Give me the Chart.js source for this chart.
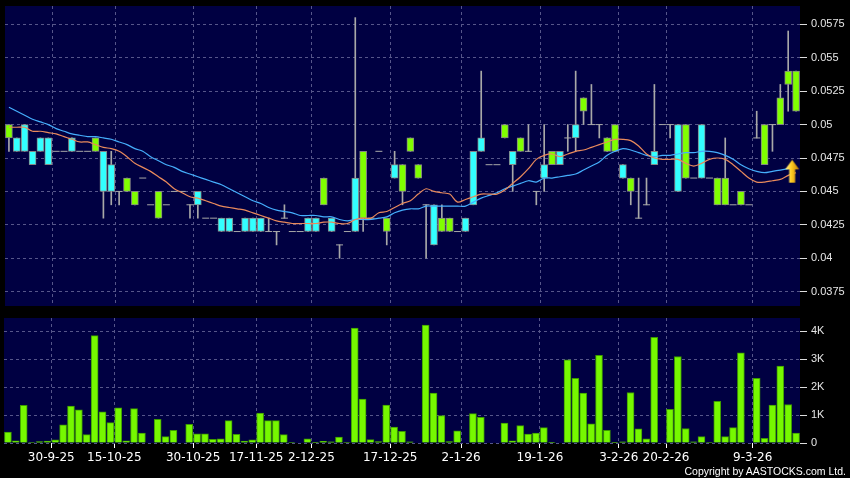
<!DOCTYPE html>
<html>
<head>
<meta charset="utf-8">
<script src="https://cdn.jsdelivr.net/npm/chart.js@4.4.0/dist/chart.umd.min.js"></script>
<style>
  html, body { margin: 0; padding: 0; background: #000; }
  #wrap { position: relative; width: 850px; height: 478px; overflow: hidden; background: #000; }
  #priceChart { position: absolute; left: 0; top: 0; }
  #volumeChart { position: absolute; left: 0; top: 312px; }
  #copy { position: absolute; right: 4px; top: 465px; color: #fff; font: 10.5px "Liberation Sans", Arial, sans-serif; line-height: 12px; }
</style>
</head>
<body>
<div id="wrap">
  <canvas id="priceChart" width="850" height="312"></canvas>
  <canvas id="volumeChart" width="850" height="166"></canvas>
  <div id="copy">Copyright by AASTOCKS.com Ltd.</div>
</div>
<script>
// ---- data (one entry per trading day) ----
const dateLabels = ['30-9-25', '15-10-25', '30-10-25', '17-11-25', '2-12-25', '17-12-25', '2-1-26', '19-1-26', '3-2-26', '20-2-26', '9-3-26'];
const dateLabelBars = [6, 14, 24, 32, 39, 49, 58, 68, 78, 84, 95];

const openPrices = [
  0.049, 0.049, 0.050, 0.048, 0.049, 0.049, 0.048, 0.048, 0.049, 0.048,
  0.048, 0.048, 0.048, 0.047, 0.045, 0.045, 0.044, 0.046, 0.044, 0.043,
  0.044, 0.045, 0.045, 0.044, 0.045, 0.043, 0.043, 0.043, 0.043, 0.042,
  0.043, 0.043, 0.043, 0.042, 0.042, 0.043, 0.042, 0.042, 0.043, 0.043,
  0.044, 0.043, 0.041, 0.042, 0.046, 0.043, 0.043, 0.048, 0.042, 0.047,
  0.045, 0.048, 0.046, 0.044, 0.044, 0.042, 0.042, 0.042, 0.043, 0.048,
  0.049, 0.047, 0.047, 0.049, 0.048, 0.048, 0.048, 0.045, 0.047, 0.047,
  0.048, 0.049, 0.050, 0.051, 0.050, 0.050, 0.048, 0.048, 0.047, 0.045,
  0.043, 0.044, 0.048, 0.050, 0.050, 0.050, 0.046, 0.046, 0.050, 0.046,
  0.044, 0.044, 0.044, 0.044, 0.044, 0.049, 0.047, 0.050, 0.050, 0.053,
  0.051
];
const highPrices = [
  0.050, 0.049, 0.050, 0.048, 0.049, 0.049, 0.048, 0.048, 0.049, 0.048,
  0.048, 0.049, 0.048, 0.048, 0.045, 0.046, 0.045, 0.046, 0.044, 0.045,
  0.044, 0.045, 0.045, 0.044, 0.045, 0.043, 0.043, 0.043, 0.043, 0.042,
  0.043, 0.043, 0.043, 0.043, 0.042, 0.044, 0.042, 0.042, 0.043, 0.043,
  0.046, 0.043, 0.041, 0.042, 0.058, 0.048, 0.043, 0.048, 0.043, 0.048,
  0.047, 0.049, 0.047, 0.044, 0.044, 0.044, 0.043, 0.042, 0.043, 0.048,
  0.054, 0.047, 0.047, 0.050, 0.048, 0.049, 0.050, 0.045, 0.050, 0.048,
  0.048, 0.050, 0.054, 0.052, 0.053, 0.050, 0.049, 0.050, 0.047, 0.046,
  0.046, 0.046, 0.053, 0.050, 0.050, 0.050, 0.050, 0.046, 0.050, 0.046,
  0.046, 0.049, 0.044, 0.045, 0.044, 0.051, 0.050, 0.050, 0.053, 0.057,
  0.054
];
const lowPrices = [
  0.048, 0.048, 0.048, 0.047, 0.048, 0.047, 0.048, 0.048, 0.048, 0.048,
  0.048, 0.048, 0.043, 0.044, 0.044, 0.045, 0.044, 0.046, 0.044, 0.043,
  0.044, 0.045, 0.045, 0.043, 0.043, 0.043, 0.043, 0.042, 0.042, 0.042,
  0.042, 0.042, 0.042, 0.042, 0.041, 0.043, 0.042, 0.042, 0.042, 0.042,
  0.044, 0.042, 0.040, 0.042, 0.042, 0.042, 0.043, 0.048, 0.041, 0.046,
  0.044, 0.048, 0.046, 0.040, 0.041, 0.042, 0.042, 0.042, 0.042, 0.044,
  0.048, 0.047, 0.047, 0.049, 0.045, 0.048, 0.048, 0.044, 0.045, 0.047,
  0.047, 0.048, 0.048, 0.050, 0.050, 0.049, 0.048, 0.048, 0.046, 0.044,
  0.043, 0.044, 0.047, 0.050, 0.049, 0.045, 0.046, 0.046, 0.046, 0.046,
  0.044, 0.044, 0.044, 0.044, 0.044, 0.049, 0.047, 0.048, 0.050, 0.051,
  0.051
];
const closePrices = [
  0.050, 0.048, 0.048, 0.047, 0.048, 0.047, 0.048, 0.048, 0.048, 0.048,
  0.048, 0.049, 0.045, 0.045, 0.045, 0.046, 0.045, 0.046, 0.044, 0.045,
  0.044, 0.045, 0.045, 0.044, 0.044, 0.043, 0.043, 0.042, 0.042, 0.042,
  0.042, 0.042, 0.042, 0.042, 0.042, 0.043, 0.042, 0.042, 0.042, 0.042,
  0.046, 0.042, 0.041, 0.042, 0.042, 0.048, 0.043, 0.048, 0.043, 0.046,
  0.047, 0.049, 0.047, 0.044, 0.041, 0.043, 0.043, 0.042, 0.042, 0.044,
  0.048, 0.047, 0.047, 0.050, 0.047, 0.049, 0.048, 0.045, 0.046, 0.048,
  0.047, 0.049, 0.049, 0.052, 0.050, 0.050, 0.049, 0.050, 0.046, 0.046,
  0.043, 0.044, 0.047, 0.050, 0.050, 0.045, 0.050, 0.046, 0.046, 0.046,
  0.046, 0.046, 0.044, 0.045, 0.044, 0.049, 0.050, 0.050, 0.052, 0.054,
  0.054
];
// orange (short) and blue (long) moving averages as drawn
const maShort = [
  0.0498, 0.0498, 0.0498, 0.0495, 0.0495, 0.0494, 0.0493, 0.0491, 0.0489, 0.0487,
  0.0487, 0.0485, 0.0483, 0.0482, 0.0480, 0.0476, 0.0471, 0.0468, 0.0465, 0.0461,
  0.0457, 0.0452, 0.0449, 0.0446, 0.0445, 0.0443, 0.0441, 0.0439, 0.0438, 0.0437,
  0.0436, 0.0434, 0.0432, 0.0430, 0.0428, 0.0427, 0.0426, 0.0426, 0.0426, 0.0426,
  0.0427, 0.0427, 0.0426, 0.0426, 0.0429, 0.0430, 0.0430, 0.0434, 0.0435, 0.0438,
  0.0441, 0.0443, 0.0448, 0.0452, 0.0450, 0.0449, 0.0448, 0.0442, 0.0444, 0.0446,
  0.0448, 0.0448, 0.0448, 0.0451, 0.0456, 0.0461, 0.0467, 0.0474, 0.0477, 0.0478,
  0.0476, 0.0478, 0.0480, 0.0481, 0.0483, 0.0485, 0.0487, 0.0489, 0.0489, 0.0488,
  0.0484, 0.0478, 0.0475, 0.0474, 0.0474, 0.0474, 0.0471, 0.0469, 0.0471, 0.0474,
  0.0475, 0.0474, 0.0470, 0.0465, 0.0460, 0.0457, 0.0457, 0.0458, 0.0459, 0.0462,
  0.0464
];
const maLong = [
  0.0513, 0.0510, 0.0507, 0.0504, 0.0502, 0.0500, 0.0497, 0.0495, 0.0493, 0.0492,
  0.0491, 0.0491, 0.0490, 0.0489, 0.0487, 0.0485, 0.0482, 0.0480, 0.0476, 0.0473,
  0.0470, 0.0468, 0.0465, 0.0463, 0.0461, 0.0459, 0.0457, 0.0455, 0.0452, 0.0449,
  0.0446, 0.0443, 0.0441, 0.0438, 0.0436, 0.0435, 0.0434, 0.0432, 0.0432, 0.0432,
  0.0431, 0.0431, 0.0429, 0.0428, 0.0429, 0.0429, 0.0429, 0.0430, 0.0431, 0.0434,
  0.0436, 0.0437, 0.0437, 0.0439, 0.0439, 0.0439, 0.0439, 0.0439, 0.0439, 0.0442,
  0.0445, 0.0447, 0.0449, 0.0452, 0.0454, 0.0456, 0.0458, 0.0457, 0.0460, 0.0460,
  0.0461, 0.0462, 0.0463, 0.0466, 0.0469, 0.0472, 0.0477, 0.0480, 0.0482, 0.0481,
  0.0479, 0.0477, 0.0476, 0.0477, 0.0477, 0.0478, 0.0479, 0.0479, 0.0480, 0.0480,
  0.0479, 0.0477, 0.0474, 0.0470, 0.0467, 0.0465, 0.0464, 0.0465, 0.0466, 0.0467,
  0.0468
];
const volumes = [
  390, 80, 1350, 20, 50, 70, 110, 650, 1320, 1190,
  300, 3850, 1120, 730, 1260, 80, 1230, 360, 0, 850,
  230, 450, 0, 670, 330, 330, 130, 150, 800, 310,
  70, 110, 1070, 800, 800, 300, 20, 0, 150, 10,
  60, 40, 210, 20, 4120, 1570, 120, 50, 1360, 570,
  420, 40, 0, 4230, 1790, 980, 50, 440, 0, 1050,
  920, 0, 0, 710, 80, 620, 320, 360, 550, 10,
  0, 2980, 2320, 1790, 690, 3140, 450, 10, 40, 1810,
  510, 150, 3790, 0, 1210, 3100, 520, 40, 230, 20,
  1490, 230, 550, 3230, 0, 2320, 170, 1360, 2760, 1380,
  360
];
const priceTicks = [0.0375, 0.04, 0.0425, 0.045, 0.0475, 0.05, 0.0525, 0.055, 0.0575];
const priceTickLabels = ['0.0375', '0.04', '0.0425', '0.045', '0.0475', '0.05', '0.0525', '0.055', '0.0575'];
const volumeTicks = [0, 1000, 2000, 3000, 4000];
const volumeTickLabels = ['0', '1K', '2K', '3K', '4K'];
// last-price marker (yellow arrow)
const markerBar = [99.5];
const markerPrice = [0.0465];

// ---- styling ----
const plotColor = '#000042';
const gridColor = '#56568a';
const upColor = '#80ff00';
const downColor = '#33ffff';
const stickColor = '#a8a8a8';
const labelFont = { family: 'Liberation Sans', size: 11 };
const dateFont = { family: 'DejaVu Sans', size: 12 };

const gridTicks = dateLabelBars.map(b => b - 0.5);

// navy plot area behind everything
const plotBackground = {
  id: 'plotBackground',
  beforeDraw(chart) {
    const { ctx, chartArea: a } = chart;
    ctx.save();
    ctx.fillStyle = plotColor;
    ctx.fillRect(a.left, a.top, a.right - a.left, a.bottom - a.top);
    ctx.restore();
  }
};

// yellow arrow image used as a point style
function makeArrow() {
  const c = document.createElement('canvas');
  c.width = 15; c.height = 24;
  const g = c.getContext('2d');
  const grad = g.createLinearGradient(0, 0, 15, 0);
  grad.addColorStop(0, '#fff3a0');
  grad.addColorStop(0.45, '#ffcc22');
  grad.addColorStop(1, '#c07800');
  g.fillStyle = grad;
  g.beginPath();
  g.moveTo(7.5, 0.5);
  g.lineTo(14.5, 10);
  g.lineTo(10.5, 10);
  g.lineTo(10.5, 23.5);
  g.lineTo(4.5, 23.5);
  g.lineTo(4.5, 10);
  g.lineTo(0.5, 10);
  g.closePath();
  g.fill();
  return c;
}

// build candle pieces
const wickData = [];
const bodyData = [];
const bodyColors = [];
const dojiData = [];
openPrices.forEach((o, i) => {
  const c = closePrices[i];
  if (highPrices[i] > lowPrices[i]) wickData.push({ x: i, y: [lowPrices[i], highPrices[i]] });
  if (o === c) {
    dojiData.push({ x: i, y: c });
  } else {
    bodyData.push({ x: i, y: [o, c] });
    bodyColors.push(c > o ? upColor : downColor);
  }
});

function xScale(showLabels) {
  return {
    type: 'linear',
    min: -0.5,
    max: 100.5,
    offset: false,
    afterBuildTicks: s => { s.ticks = gridTicks.map(v => ({ value: v })); },
    afterFit: s => {
      s.height = showLabels ? 35 : 0;
      s.paddingLeft = 0; s.paddingRight = 0;
    },
    border: { display: false, dash: [3, 3] },
    grid: { color: gridColor, offset: false, drawTicks: showLabels, tickLength: 5, tickColor: '#ffffff', tickBorderDash: [] },
    ticks: {
      display: showLabels,
      color: '#ffffff',
      font: dateFont,
      padding: 3,
      maxRotation: 0,
      autoSkip: false,
      callback: (v, i) => dateLabels[i]
    }
  };
}

function yScale(min, max, tickValues, tickLabels) {
  return {
    position: 'right',
    min: min,
    max: max,
    afterBuildTicks: s => { s.ticks = tickValues.map(v => ({ value: v })); },
    afterFit: s => {
      s.width = 50;
      s.paddingTop = 0; s.paddingBottom = 0;
    },
    border: { display: false, dash: [3, 3] },
    grid: { color: gridColor, tickLength: 7, tickColor: '#dddddd', tickBorderDash: [] },
    ticks: {
      color: '#e6e6e6',
      font: labelFont,
      padding: 4,
      callback: (v, i) => tickLabels[i]
    }
  };
}

Chart.defaults.animation = false;

// price panel
new Chart(document.getElementById('priceChart'), {
  type: 'bar',
  data: {
    datasets: [
      {
        type: 'scatter',
        data: markerBar.map((b, i) => ({ x: b, y: markerPrice[i] })),
        pointStyle: makeArrow(),
        order: 0
      },
      {
        type: 'line',
        data: maShort.map((v, i) => ({ x: i, y: v })),
        borderColor: '#e98a5c',
        borderWidth: 1.2,
        pointRadius: 0,
        tension: 0.3,
        order: 1
      },
      {
        type: 'line',
        data: maLong.map((v, i) => ({ x: i, y: v })),
        borderColor: '#45aefc',
        borderWidth: 1.2,
        pointRadius: 0,
        tension: 0.3,
        order: 2
      },
      {
        type: 'scatter',
        data: dojiData,
        pointStyle: 'line',
        pointRadius: 3.5,
        borderColor: stickColor,
        borderWidth: 1,
        order: 3
      },
      {
        data: bodyData,
        backgroundColor: bodyColors,
        borderColor: '#858585',
        borderWidth: 1,
        borderSkipped: false,
        barThickness: 7,
        grouped: false,
        order: 4
      },
      {
        data: wickData,
        backgroundColor: stickColor,
        borderWidth: 0,
        barThickness: 1,
        grouped: false,
        order: 5
      }
    ]
  },
  options: {
    responsive: false,
    layout: { padding: { top: 6, left: 4, right: 0, bottom: 6 } },
    plugins: { legend: { display: false }, tooltip: { enabled: false } },
    scales: {
      x: xScale(false),
      y: yScale(0.03643, 0.05887, priceTicks, priceTickLabels)
    }
  },
  plugins: [plotBackground]
});

// volume panel
new Chart(document.getElementById('volumeChart'), {
  type: 'bar',
  data: {
    datasets: [{
      data: volumes.map((v, i) => ({ x: i, y: v })),
      backgroundColor: '#76f800',
      borderColor: '#3d9a00',
      borderWidth: 1,
      borderSkipped: 'start',
      barThickness: 7
    }]
  },
  options: {
    responsive: false,
    layout: { padding: { top: 6, left: 4, right: 0, bottom: 0 } },
    plugins: { legend: { display: false }, tooltip: { enabled: false } },
    scales: {
      x: xScale(true),
      y: yScale(0, 4480, volumeTicks, volumeTickLabels)
    }
  },
  plugins: [plotBackground]
});
</script>
</body>
</html>
